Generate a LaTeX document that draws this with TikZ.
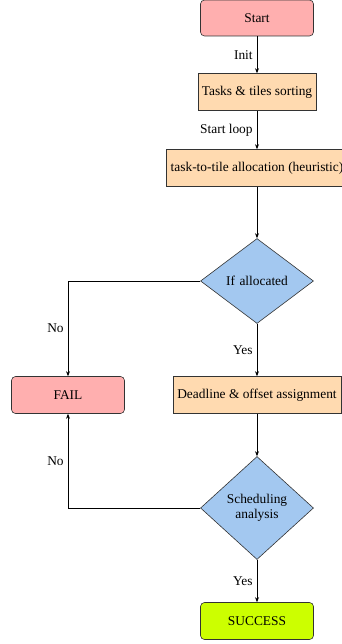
\documentclass[tikz,border=0pt]{standalone}
\usepackage{fontspec}
\setmainfont{Liberation Serif}
\usetikzlibrary{shapes.geometric,arrows.meta}
\definecolor{startpink}{HTML}{FFAFAF}
\definecolor{taskpeach}{HTML}{FFDAB0}
\definecolor{testblue}{HTML}{A3C8F0}
\definecolor{donelime}{HTML}{CCFF00}
\begin{document}
\begin{tikzpicture}[
        node distance=113pt,
        font=\fontsize{13.4}{15.5}\selectfont,
        terminal/.style={rectangle, draw=black!80, fill=startpink, minimum width=113pt, minimum height=36pt, rounded corners=4pt, text centered, line width=0.6pt},
        process/.style={rectangle, draw=black!80, fill=taskpeach, minimum height=37pt, text centered, inner xsep=4pt, line width=0.6pt},
        decision/.style={diamond, draw=black!80, fill=testblue, minimum width=113pt, text width=64pt, align=center, inner sep=0pt, line width=0.6pt},
        success/.style={rectangle, draw=black!80, fill=donelime, minimum width=113pt, minimum height=37pt, rounded corners=4pt, text centered, line width=0.6pt},
        arrow/.style={-{Stealth[length=5pt,width=4pt]}, line width=0.7pt},
        label/.style={inner sep=4pt}
    ]
        \useasboundingbox (-257pt,18pt) rectangle (85pt,-626pt);

        % Start and preparation
        \node[terminal] (start) {Start};
        \node[process, below of=start, yshift=39pt] (sorting) {Tasks \& tiles sorting};
        \node[process, below of=sorting, yshift=37pt, minimum width=180pt] (allocation) {task-to-tile allocation (heuristic)};

        % First test
        \node[decision, below of=allocation, minimum height=85pt] (allocated) {If allocated};

        % Middle row
        \node[process, below of=allocated, yshift=-1pt, minimum width=168pt] (deadline) {Deadline \& offset assignment};
        \node[terminal, left of=deadline, xshift=-76pt, minimum height=37pt] (fail) {FAIL};

        % Second test
        \node[decision, below of=deadline, minimum height=103pt] (scheduling) {Scheduling analysis};
        \node[success, below of=scheduling] (done) {SUCCESS};

        % Arrows
        \draw[arrow] (start) -- node[label, left] {Init} (sorting);
        \draw[arrow] (sorting) -- node[label, left] {Start loop} (allocation);
        \draw[arrow] (allocation) -- (allocated);
        \draw[arrow] (allocated) -- node[label, left] {Yes} (deadline);
        \draw[arrow] (allocated.west) -| node[label, left, pos=0.75] {No} (fail.north);
        \draw[arrow] (deadline) -- (scheduling);
        \draw[arrow] (scheduling.west) -| node[label, left, pos=0.75] {No} (fail.south);
        \draw[arrow] (scheduling) -- node[label, left] {Yes} (done);
    \end{tikzpicture}
\end{document}
